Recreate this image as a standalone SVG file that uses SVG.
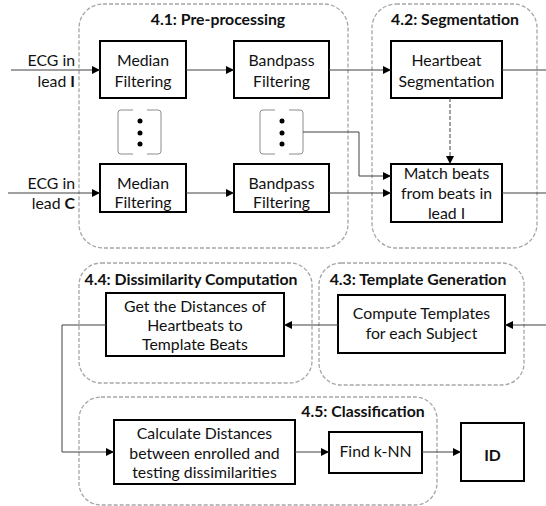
<svg xmlns="http://www.w3.org/2000/svg" width="546" height="506" viewBox="0 0 546 506">
  <style>
    .grp { fill: none; stroke: #a6a6a6; stroke-width: 1.3; stroke-dasharray: 4 2; }
    .box { fill: #ffffff; stroke: #000000; stroke-width: 2; }
    .title { font-family: Lato, "Liberation Sans", sans-serif; font-size: 15.8px; font-weight: bold; fill: #111; text-anchor: middle; }
    .lbl { font-family: Lato, "Liberation Sans", sans-serif; font-size: 15.8px; fill: #111; text-anchor: middle; }
    .in { font-family: Lato, "Liberation Sans", sans-serif; font-size: 15.8px; fill: #111; text-anchor: end; }
    .wire { fill: none; stroke: #404040; stroke-width: 1; }
    .brk { fill: none; stroke: #8c8c8c; stroke-width: 1; }
  </style>
  <defs>
    <marker id="arr" viewBox="0 0 8 8" refX="8" refY="4" markerWidth="8" markerHeight="8" markerUnits="userSpaceOnUse" orient="auto">
      <path d="M0,0 L8,4 L0,8 Z" fill="#000"/>
    </marker>
  </defs>
  <rect width="546" height="506" fill="#ffffff"/>

  <!-- stage frames -->
  <g id="stage-preprocessing">
    <rect class="grp" x="79" y="4" width="269" height="244" rx="24"/>
    <text class="title" x="218" y="25">4.1: Pre-processing</text>
  </g>
  <g id="stage-segmentation">
    <rect class="grp" x="372" y="4" width="165" height="244" rx="24"/>
    <text class="title" x="455" y="25">4.2: Segmentation</text>
  </g>
  <g id="stage-dissimilarity">
    <rect class="grp" x="79" y="263" width="233" height="120" rx="22"/>
    <text class="title" x="191" y="285">4.4: Dissimilarity Computation</text>
  </g>
  <g id="stage-template">
    <rect class="grp" x="319" y="263" width="205" height="122" rx="22"/>
    <text class="title" x="418" y="285">4.3: Template Generation</text>
  </g>
  <g id="stage-classification">
    <rect class="grp" x="79" y="397" width="358" height="108" rx="22"/>
    <text class="title" x="363" y="417">4.5: Classification</text>
  </g>

  <!-- inputs -->
  <g id="input-lead-i">
    <text class="in" x="75" y="66">ECG in</text>
    <text class="in" x="75" y="87">lead <tspan font-weight="bold">I</tspan></text>
  </g>
  <g id="input-lead-c">
    <text class="in" x="75" y="189">ECG in</text>
    <text class="in" x="75" y="209">lead <tspan font-weight="bold">C</tspan></text>
  </g>

  <!-- processing blocks -->
  <g id="median-i">
    <rect class="box" x="100" y="41" width="86" height="57"/>
    <text class="lbl" x="143" y="66">Median</text>
    <text class="lbl" x="143" y="87">Filtering</text>
  </g>
  <g id="bandpass-i">
    <rect class="box" x="234" y="41" width="95" height="57"/>
    <text class="lbl" x="281.5" y="66">Bandpass</text>
    <text class="lbl" x="281.5" y="87">Filtering</text>
  </g>
  <g id="median-c">
    <rect class="box" x="100" y="164" width="86" height="48"/>
    <text class="lbl" x="143" y="189">Median</text>
    <text class="lbl" x="143" y="208">Filtering</text>
  </g>
  <g id="bandpass-c">
    <rect class="box" x="234" y="164" width="95" height="48"/>
    <text class="lbl" x="281.5" y="189">Bandpass</text>
    <text class="lbl" x="281.5" y="208">Filtering</text>
  </g>
  <g id="ellipsis-median">
    <path class="brk" d="M133,110 H121 Q118,110 118,113 V151 Q118,154 121,154 H133 M147,110 H158 Q161,110 161,113 V151 Q161,154 158,154 H147"/>
    <circle cx="140" cy="121" r="2.5" fill="#000"/>
    <circle cx="140" cy="133" r="2.5" fill="#000"/>
    <circle cx="140" cy="144" r="2.5" fill="#000"/>
  </g>
  <g id="ellipsis-bandpass">
    <path class="brk" d="M275,110 H263 Q260,110 260,113 V151 Q260,154 263,154 H275 M289,110 H300 Q303,110 303,113 V151 Q303,154 300,154 H289"/>
    <circle cx="282" cy="121" r="2.5" fill="#000"/>
    <circle cx="282" cy="133" r="2.5" fill="#000"/>
    <circle cx="282" cy="144" r="2.5" fill="#000"/>
  </g>
  <g id="heartbeat-seg">
    <rect class="box" x="391" y="41" width="111" height="57"/>
    <text class="lbl" x="446.5" y="66">Heartbeat</text>
    <text class="lbl" x="446.5" y="87">Segmentation</text>
  </g>
  <g id="match-beats">
    <rect class="box" x="391" y="164" width="111" height="58"/>
    <text class="lbl" x="446.5" y="179">Match beats</text>
    <text class="lbl" x="446.5" y="199">from beats in</text>
    <text class="lbl" x="446.5" y="219">lead I</text>
  </g>
  <g id="compute-templates">
    <rect class="box" x="338" y="295" width="167" height="58"/>
    <text class="lbl" x="421.5" y="319">Compute Templates</text>
    <text class="lbl" x="421.5" y="339">for each Subject</text>
  </g>
  <g id="distances">
    <rect class="box" x="106" y="293" width="178" height="63"/>
    <text class="lbl" x="195" y="312">Get the Distances of</text>
    <text class="lbl" x="195" y="331">Heartbeats to</text>
    <text class="lbl" x="195" y="350">Template Beats</text>
  </g>
  <g id="calculate">
    <rect class="box" x="114" y="420" width="181" height="64"/>
    <text class="lbl" x="204.5" y="439">Calculate Distances</text>
    <text class="lbl" x="204.5" y="459">between enrolled and</text>
    <text class="lbl" x="204.5" y="478">testing dissimilarities</text>
  </g>
  <g id="knn">
    <rect class="box" x="329" y="432" width="93" height="41"/>
    <text class="lbl" x="375.5" y="457">Find k-NN</text>
  </g>
  <g id="id-out">
    <rect class="box" x="461" y="423" width="63" height="58"/>
    <text class="lbl" x="492.5" y="461" font-size="25" font-weight="bold">ID</text>
  </g>

  <!-- connectors -->
  <g id="connectors">
    <path class="wire" d="M11,70 H100" marker-end="url(#arr)"/>
    <path class="wire" d="M186,70 H234" marker-end="url(#arr)"/>
    <path class="wire" d="M329,70 H391" marker-end="url(#arr)"/>
    <path class="wire" d="M502,70 H546"/>
    <path class="wire" d="M450,98 V164" stroke-dasharray="4 2" marker-end="url(#arr)"/>
    <path class="wire" d="M8,193 H100" marker-end="url(#arr)"/>
    <path class="wire" d="M186,193 H234" marker-end="url(#arr)"/>
    <path class="wire" d="M303,132 H359 V176 H391" marker-end="url(#arr)"/>
    <path class="wire" d="M329,193 H391" marker-end="url(#arr)"/>
    <path class="wire" d="M502,193 H546"/>
    <path class="wire" d="M546,325 H505" marker-end="url(#arr)"/>
    <path class="wire" d="M338,325 H284" marker-end="url(#arr)"/>
    <path class="wire" d="M106,325 H62 V452 H114" marker-end="url(#arr)"/>
    <path class="wire" d="M295,452 H329" marker-end="url(#arr)"/>
    <path class="wire" d="M422,452 H461" marker-end="url(#arr)"/>
  </g>
</svg>
